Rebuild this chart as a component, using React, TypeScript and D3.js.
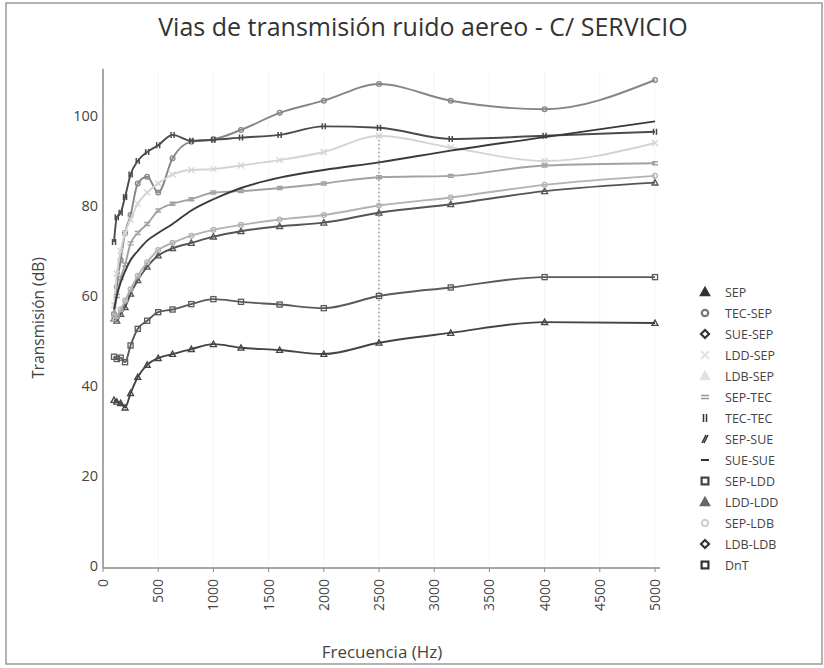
import React from "react";
import * as d3 from "d3";

const FREQ = [100, 125, 160, 200, 250, 315, 400, 500, 630, 800, 1000, 1250, 1600, 2000, 2500, 3150, 4000, 5000];

const SEP = [36.9, 36.5, 36.2, 35.2, 38.4, 42, 44.7, 46.2, 47.1, 48.2, 49.3, 48.5, 48, 47.1, 49.6, 51.8, 54.2, 54];
const TEC_SEP = [56, 62, 68, 74, 78, 85, 86.5, 83, 90.6, 94.3, 94.8, 96.9, 100.7, 103.4, 107.1, 103.4, 101.5, 108];
const TEC_TEC = [72, 77.5, 78.5, 82, 87, 90, 92, 93.5, 95.8, 94.5, 94.7, 95.2, 95.8, 97.7, 97.4, 94.9, 95.6, 96.5];
const SUE_SUE = [57, 60, 63, 65.5, 68, 70, 72.3, 74, 76, 79, 81.5, 84, 86.3, 88, 89.7, 92.3, 95.3, 98.8];
const LDD_SEP = [58, 65, 70, 74, 77, 80.5, 83, 85, 87, 88, 88.2, 89, 90.2, 92, 95.6, 93, 90, 94];
const SEP_TEC = [56, 60, 64, 67, 71.7, 74, 76, 79, 80.5, 81.5, 83, 83.3, 84, 85, 86.4, 86.7, 89, 89.5];
const SEP_LDB = [55, 55.5, 57, 59, 61.5, 64.5, 67.5, 70.2, 71.8, 73.4, 74.7, 75.8, 77, 78, 80.1, 81.9, 84.7, 86.7];
const LDD_LDD = [55, 54.5, 56, 57.5, 60.5, 63.5, 66.5, 69, 70.6, 71.8, 73.2, 74.4, 75.5, 76.3, 78.5, 80.4, 83.3, 85.2];
const SEP_LDD = [46.5, 46, 46.3, 45.3, 49, 52.7, 54.5, 56.4, 57, 58.2, 59.3, 58.7, 58.1, 57.3, 60, 61.9, 64.2, 64.2];

const X_TICKS = [0, 500, 1000, 1500, 2000, 2500, 3000, 3500, 4000, 4500, 5000];
const Y_TICKS = [0, 20, 40, 60, 80, 100];

type Series = { name: string; marker: string; color: string; line: string; values: number[] | null };

const SERIES: Series[] = [
  { name: "SEP", marker: "triangle", color: "#333", line: "#444", values: SEP },
  { name: "TEC-SEP", marker: "circle", color: "#777", line: "#868686", values: TEC_SEP },
  { name: "SUE-SEP", marker: "diamond", color: "#333", line: "#333", values: null },
  { name: "LDD-SEP", marker: "cross", color: "#e2e2e2", line: "#d4d4d4", values: LDD_SEP },
  { name: "LDB-SEP", marker: "triangle", color: "#e2e2e2", line: "#ddd", values: null },
  { name: "SEP-TEC", marker: "equal", color: "#999", line: "#a2a2a2", values: SEP_TEC },
  { name: "TEC-TEC", marker: "bars", color: "#333", line: "#4a4a4a", values: TEC_TEC },
  { name: "SEP-SUE", marker: "slash", color: "#333", line: "#333", values: null },
  { name: "SUE-SUE", marker: "dash", color: "#333", line: "#3a3a3a", values: SUE_SUE },
  { name: "SEP-LDD", marker: "square", color: "#444", line: "#5a5a5a", values: SEP_LDD },
  { name: "LDD-LDD", marker: "triangle", color: "#666", line: "#555", values: LDD_LDD },
  { name: "SEP-LDB", marker: "circle", color: "#d0d0d0", line: "#b2b2b2", values: SEP_LDB },
  { name: "LDB-LDB", marker: "diamond", color: "#333", line: "#333", values: null },
  { name: "DnT", marker: "square", color: "#333", line: "#333", values: null },
];

const FONT = "'Open Sans', 'Noto Sans', sans-serif";

function Marker({ type, x, y, color, size = 3.5, legend = false }: any) {
  const s = size;
  const sw = legend ? 2.2 : 1.3;
  switch (type) {
    case "triangle":
      return <path d={`M${x},${y - s}L${x + s},${y + s * 0.8}L${x - s},${y + s * 0.8}Z`} fill={legend ? color : "none"} stroke={color} strokeWidth={sw} />;
    case "circle":
      return <circle cx={x} cy={y} r={s * 0.8} fill="none" stroke={color} strokeWidth={sw} />;
    case "diamond":
      return <path d={`M${x},${y - s}L${x + s},${y}L${x},${y + s}L${x - s},${y}Z`} fill="none" stroke={color} strokeWidth={sw} />;
    case "cross":
      return <path d={`M${x - s},${y - s}L${x + s},${y + s}M${x + s},${y - s}L${x - s},${y + s}`} stroke={color} strokeWidth={sw} />;
    case "equal":
      return <path d={`M${x - s},${y - 1.5}L${x + s},${y - 1.5}M${x - s},${y + 1.5}L${x + s},${y + 1.5}`} stroke={color} strokeWidth={1.4} />;
    case "bars":
      return <path d={`M${x - 1.5},${y - s}L${x - 1.5},${y + s}M${x + 1.5},${y - s}L${x + 1.5},${y + s}`} stroke={color} strokeWidth={1.5} />;
    case "slash":
      return <path d={`M${x - s + 1},${y + s}L${x + 1},${y - s}M${x - 1},${y + s}L${x + s - 1},${y - s}`} stroke={color} strokeWidth={1.6} />;
    case "dash":
      return <path d={`M${x - s},${y}L${x + s},${y}`} stroke={color} strokeWidth={2} />;
    case "square":
      return <rect x={x - s * 0.85} y={y - s * 0.85} width={s * 1.7} height={s * 1.7} fill="none" stroke={color} strokeWidth={sw} />;
    default:
      return null;
  }
}

export default function App() {
  const W = 824, H = 668;
  const x = d3.scaleLinear().domain([0, 5000]).range([103, 655]);
  const y = d3.scaleLinear().domain([0, 100]).range([566, 116]);
  const line = d3
    .line<number>()
    .x((_, i) => x(FREQ[i]))
    .y((v) => y(v))
    .curve(d3.curveMonotoneX);

  const i2500 = FREQ.indexOf(2500);
  const legendY0 = 292;
  const legendStep = 21;

  return (
    <div style={{ position: "fixed", left: 0, top: 0, width: W, height: H, background: "#fff" }}>
      <svg width={W} height={H} style={{ display: "block" }}>
        <rect x={0} y={0} width={W} height={H} fill="#fff" />
        {/* frame */}
        <rect x={6} y={3} width={816} height={661} fill="none" stroke="#9a9a9a" strokeWidth={1.5} />
        {/* title */}
        <text x={423} y={36} textAnchor="middle" fontFamily={FONT} fontSize={25} fill="#333">
          Vias de transmisión ruido aereo - C/ SERVICIO
        </text>
        {/* faint grid */}
        {X_TICKS.slice(1).map((t) => (
          <line key={"g" + t} x1={x(t)} x2={x(t)} y1={y(110)} y2={y(0)} stroke="#f4f4f4" strokeWidth={1} />
        ))}
        {/* axes */}
        <line x1={103} x2={103} y1={y(110.5)} y2={y(0) + 2} stroke="#8a8a8a" strokeWidth={1.5} />
        <line x1={103} x2={660} y1={y(0) + 2} y2={y(0) + 2} stroke="#8a8a8a" strokeWidth={1.5} />
        {Y_TICKS.map((t) => (
          <text key={"yt" + t} x={98} y={y(t) + 5} textAnchor="end" fontFamily={FONT} fontSize={14.5} fill="#444">
            {t}
          </text>
        ))}
        {X_TICKS.map((t) => (
          <g key={"xt" + t}>
            <line x1={x(t)} x2={x(t)} y1={y(0) + 2} y2={y(0) + 6} stroke="#8a8a8a" strokeWidth={1} />
            <text
              transform={`translate(${x(t) + 5},${579}) rotate(-90)`}
              textAnchor="end"
              fontFamily={FONT}
              fontSize={14}
              fill="#444"
            >
              {t}
            </text>
          </g>
        ))}
        <text transform={`translate(44,318) rotate(-90)`} textAnchor="middle" fontFamily={FONT} fontSize={15.5} fill="#444">
          Transmisión (dB)
        </text>
        <text x={382} y={658} textAnchor="middle" fontFamily={FONT} fontSize={17} fill="#444">
          Frecuencia (Hz)
        </text>
        {/* dotted crosshair at 2500 Hz */}
        <line
          x1={x(2500)}
          x2={x(2500)}
          y1={y(LDD_SEP[i2500])}
          y2={y(SEP[i2500])}
          stroke="#666"
          strokeWidth={1}
          strokeDasharray="1.5,2.5"
        />
        {/* series lines */}
        {SERIES.filter((s) => s.values).map((s) => (
          <g key={s.name}>
            <path d={line(s.values as number[]) || ""} fill="none" stroke={s.line} strokeWidth={1.9} />
            {s.marker !== "dash" &&
              (s.values as number[]).map((v, i) => (
                <Marker key={i} type={s.marker} x={x(FREQ[i])} y={y(v)} color={s.line} size={3} />
              ))}
          </g>
        ))}
        {/* legend */}
        {SERIES.map((s, i) => {
          const ly = legendY0 + i * legendStep;
          return (
            <g key={"lg" + s.name}>
              <Marker type={s.marker} x={705} y={ly} color={s.color} size={4} legend />
              <text x={725} y={ly + 4.5} fontFamily={FONT} fontSize={12.5} fill="#444">
                {s.name}
              </text>
            </g>
          );
        })}
      </svg>
    </div>
  );
}
